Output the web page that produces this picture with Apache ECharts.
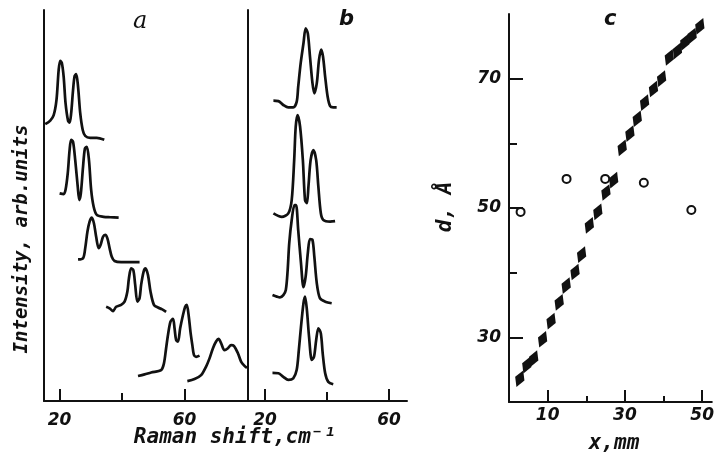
<!DOCTYPE html>
<html>
<head>
<meta charset="utf-8">
<script src="https://cdn.jsdelivr.net/npm/echarts@6/dist/echarts.min.js"></script>
<style>
  html, body { margin: 0; padding: 0; background: #fff; }
  #chart { width: 717px; height: 458px; }
</style>
</head>
<body>
<div id="chart"></div>
<script>
// Raman spectra (arb. units, stacked) — panel a
var specA1 = [[15.4,70.8],[17.0,71.7],[18.1,73.1],[19.0,77.0],[19.7,84.7],[20.2,87.0],[20.7,86.5],[21.3,82.9],[21.9,76.2],[22.7,71.7],[23.2,71.2],[23.7,73.6],[24.3,79.5],[24.8,83.1],[25.3,83.6],[25.9,80.4],[26.6,73.6],[27.4,69.3],[28.2,67.8],[29.8,67.3],[31.9,67.3],[34.3,66.8]];
var specA2 = [[20.0,53.1],[21.3,52.9],[21.9,54.0],[22.6,58.2],[23.2,64.2],[23.7,66.8],[24.3,66.3],[25.0,61.6],[25.8,54.8],[26.3,51.4],[26.8,53.1],[27.5,59.9],[28.1,64.6],[28.7,65.0],[29.4,61.6],[30.1,54.0],[30.9,49.7],[31.9,47.6],[34.1,47.1],[36.2,47.0],[38.9,46.9]];
var specA3 = [[25.9,36.2],[27.5,36.5],[28.2,39.1],[28.9,43.3],[29.6,45.9],[30.3,46.9],[31.0,45.4],[31.7,42.0],[32.5,39.1],[33.1,39.9],[33.9,42.0],[34.6,42.5],[35.3,41.6],[36.0,39.1],[36.7,36.9],[37.6,35.8],[39.7,35.5],[42.9,35.5],[45.6,35.5]];
var specA4 = [[34.9,24.1],[36.0,23.7],[37.1,23.0],[38.1,24.1],[39.7,24.6],[40.8,25.4],[41.7,28.0],[42.2,31.4],[42.9,33.9],[43.6,33.5],[44.2,29.7],[44.9,25.4],[45.6,26.3],[46.1,29.7],[46.9,33.1],[47.5,33.9],[48.3,32.2],[49.1,28.0],[50.2,24.6],[51.5,23.9],[52.7,23.5],[54.1,22.8]];
var specA5 = [[45.1,6.4],[47.2,6.8],[49.3,7.3],[52.5,7.9],[53.4,9.6],[54.1,13.5],[54.7,16.9],[55.5,20.3],[56.3,21.0],[56.8,18.6],[57.3,15.6],[57.9,15.2],[58.6,18.6],[59.5,22.0],[60.2,24.1],[60.7,24.6],[61.3,22.0],[61.9,17.7],[62.5,14.3],[63.0,11.8],[63.7,11.3],[64.8,11.6]];
var specA6 = [[60.9,5.1],[63.2,5.6],[65.3,6.6],[66.9,8.8],[68.0,10.9],[69.1,13.5],[70.1,15.2],[70.9,15.9],[71.7,14.8],[72.8,13.0],[73.9,13.5],[74.9,14.3],[75.8,14.1],[77.1,12.2],[78.1,10.1],[79.2,9.0],[80.0,8.5]];

// panel b
var specB1 = [[22.7,76.8],[24.3,76.7],[25.9,75.7],[27.5,75.1],[29.1,75.1],[30.2,76.5],[30.7,80.4],[31.5,86.4],[32.4,91.5],[33.1,95.3],[33.8,94.0],[34.5,88.1],[35.3,81.3],[35.9,78.7],[36.7,81.3],[37.4,87.2],[38.1,89.9],[38.7,88.1],[39.4,82.9],[40.2,77.8],[41.0,75.4],[42.0,75.1],[43.1,75.1]];
var specB2 = [[22.7,48.0],[25.4,47.1],[27.5,48.0],[28.6,51.4],[29.4,61.6],[29.9,70.2],[30.5,73.1],[31.3,70.2],[32.2,61.6],[32.9,51.4],[33.5,50.6],[34.0,54.8],[34.7,61.6],[35.6,64.2],[36.5,61.6],[37.2,54.8],[38.0,48.0],[38.8,46.3],[41.0,45.9],[42.6,46.0]];
var specB3 = [[22.4,27.1],[23.8,26.7],[24.8,26.5],[25.9,27.1],[26.7,28.4],[27.3,33.5],[27.8,40.3],[28.6,46.3],[29.5,50.1],[30.0,50.1],[30.7,43.7],[31.6,35.2],[32.4,29.1],[33.1,31.8],[33.8,37.8],[34.5,41.4],[35.3,41.2],[35.9,36.9],[36.7,30.1],[37.7,26.3],[39.4,25.4],[41.5,25.0]];
var specB4 = [[22.4,7.2],[24.3,7.1],[25.9,6.2],[27.5,5.4],[29.1,5.8],[30.2,7.9],[30.9,13.0],[31.6,19.0],[32.4,25.0],[32.9,26.7],[33.5,23.3],[34.2,16.4],[35.1,10.5],[35.8,11.3],[36.5,15.6],[37.2,18.6],[38.0,17.3],[38.6,12.2],[39.4,7.1],[40.4,4.9],[42.0,4.3]];

// panel c: d (A) vs x (mm)
var filledPts = [[2.8,23.6],[4.6,25.7],[6.4,26.7],[8.7,29.7],[10.9,32.5],[13.0,35.4],[14.8,38.0],[17.1,40.1],[18.8,42.8],[20.8,47.3],[23.0,49.4],[25.1,52.4],[27.1,54.3],[29.3,59.3],[31.3,61.5],[33.2,63.8],[35.1,66.3],[37.4,68.4],[39.5,70.0],[41.5,73.3],[43.6,74.3],[45.5,75.6],[47.4,76.6],[49.4,78.1]];
var openPts = [[3.0,49.4],[14.9,54.5],[24.9,54.5],[34.9,53.9],[47.2,49.7]];

var ramanLabels = [20, 60];
var ramanTicks = [20, 60];
var ramanMinor = [40];
var cXLabels = [10, 30, 50];
var cXMinor = [20, 40];
var cYLabels = [30, 50, 70];
var cYMinor = [40, 60];

var ink = '#111';
var numFont = {fontFamily: 'DejaVu Sans', fontStyle: 'italic', fontWeight: 'bold', fontSize: 17, color: ink};

function specLine(data, grid) {
  return {
    type: 'line', data: data, xAxisIndex: grid * 2, yAxisIndex: grid,
    showSymbol: false, smooth: 0.3, silent: true,
    lineStyle: {color: ink, width: 2.7}
  };
}

function mainX(grid, min, max, labels, ticks, margin) {
  return {
    type: 'value', gridIndex: grid, min: min, max: max,
    axisLine: {show: true, lineStyle: {color: ink, width: 2}},
    axisTick: {show: true, inside: true, length: 12, customValues: ticks, lineStyle: {color: ink, width: 2}},
    axisLabel: Object.assign({customValues: labels, margin: margin}, numFont),
    splitLine: {show: false}
  };
}
function minorX(grid, min, max, ticks, len) {
  return {
    type: 'value', gridIndex: grid, min: min, max: max, position: 'bottom',
    axisLine: {show: false},
    axisTick: {show: true, inside: true, length: len, customValues: ticks, lineStyle: {color: ink, width: 2}},
    axisLabel: {show: false}, splitLine: {show: false}
  };
}

var chart = echarts.init(document.getElementById('chart'));
var option = {
  backgroundColor: '#fff',
  animation: false,
  grid: [
    {left: 44, top: 10, width: 203, height: 391},
    {left: 248, top: 10, width: 159, height: 391},
    {left: 509, top: 14, width: 206, height: 388}
  ],
  xAxis: [
    mainX(0, 15, 80, ramanLabels, ramanTicks, 11),
    minorX(0, 15, 80, ramanMinor, 8),
    mainX(1, 14.5, 65.8, ramanLabels, ramanTicks, 11),
    minorX(1, 14.5, 65.8, ramanMinor, 9),
    mainX(2, 0, 52.5, cXLabels, cXLabels, 5),
    minorX(2, 0, 52.5, cXMinor, 6)
  ],
  yAxis: [
    {type: 'value', gridIndex: 0, min: 0, max: 100,
      axisLine: {show: true, lineStyle: {color: ink, width: 2}},
      axisTick: {show: false}, axisLabel: {show: false}, splitLine: {show: false}},
    {type: 'value', gridIndex: 1, min: 0, max: 100,
      axisLine: {show: true, lineStyle: {color: ink, width: 2}},
      axisTick: {show: false}, axisLabel: {show: false}, splitLine: {show: false}},
    {type: 'value', gridIndex: 2, min: 20, max: 80,
      axisLine: {show: true, lineStyle: {color: ink, width: 2}},
      axisTick: {show: true, inside: true, length: 14, customValues: cYLabels, lineStyle: {color: ink, width: 2}},
      axisLabel: Object.assign({customValues: cYLabels, margin: 8}, numFont),
      splitLine: {show: false}},
    {type: 'value', gridIndex: 2, min: 20, max: 80, position: 'left',
      axisLine: {show: false},
      axisTick: {show: true, inside: true, length: 8, customValues: cYMinor, lineStyle: {color: ink, width: 2}},
      axisLabel: {show: false}, splitLine: {show: false}}
  ],
  series: [
    specLine(specA1, 0), specLine(specA2, 0), specLine(specA3, 0),
    specLine(specA4, 0), specLine(specA5, 0), specLine(specA6, 0),
    specLine(specB1, 1), specLine(specB2, 1), specLine(specB3, 1), specLine(specB4, 1),
    {
      type: 'scatter', data: filledPts, xAxisIndex: 4, yAxisIndex: 2,
      symbol: 'diamond', symbolSize: [10, 18], symbolRotate: -22,
      itemStyle: {color: ink, opacity: 1}
    },
    {
      type: 'scatter', data: openPts, xAxisIndex: 4, yAxisIndex: 2,
      symbol: 'circle', symbolSize: 8,
      itemStyle: {color: '#fff', borderColor: ink, borderWidth: 2, opacity: 1}
    }
  ],
  graphic: [
    {type: 'text', left: 133, top: 10, style: {text: 'a', font: 'italic 24px "DejaVu Serif"', fill: ink}},
    {type: 'text', left: 339, top: 9, style: {text: 'b', font: 'italic bold 21px "DejaVu Sans"', fill: ink}},
    {type: 'text', left: 604, top: 9, style: {text: 'c', font: 'italic bold 21px "DejaVu Sans"', fill: ink}},
    {type: 'text', x: 22, y: 239, rotation: Math.PI / 2,
      style: {text: 'Intensity, arb.units', font: 'italic bold 19px "DejaVu Sans Mono"', fill: ink, align: 'center', verticalAlign: 'middle'}},
    {type: 'text', x: 235, y: 438,
      style: {text: 'Raman shift,cm⁻¹', font: 'italic bold 21px "DejaVu Sans Mono"', fill: ink, align: 'center', verticalAlign: 'middle'}},
    {type: 'text', x: 446, y: 207, rotation: Math.PI / 2,
      style: {text: 'd, Å', font: 'italic bold 21px "DejaVu Sans Mono"', fill: ink, align: 'center', verticalAlign: 'middle'}},
    {type: 'text', x: 614, y: 444,
      style: {text: 'x,mm', font: 'italic bold 21px "DejaVu Sans Mono"', fill: ink, align: 'center', verticalAlign: 'middle'}}
  ]
};
chart.setOption(option);
</script>
</body>
</html>
